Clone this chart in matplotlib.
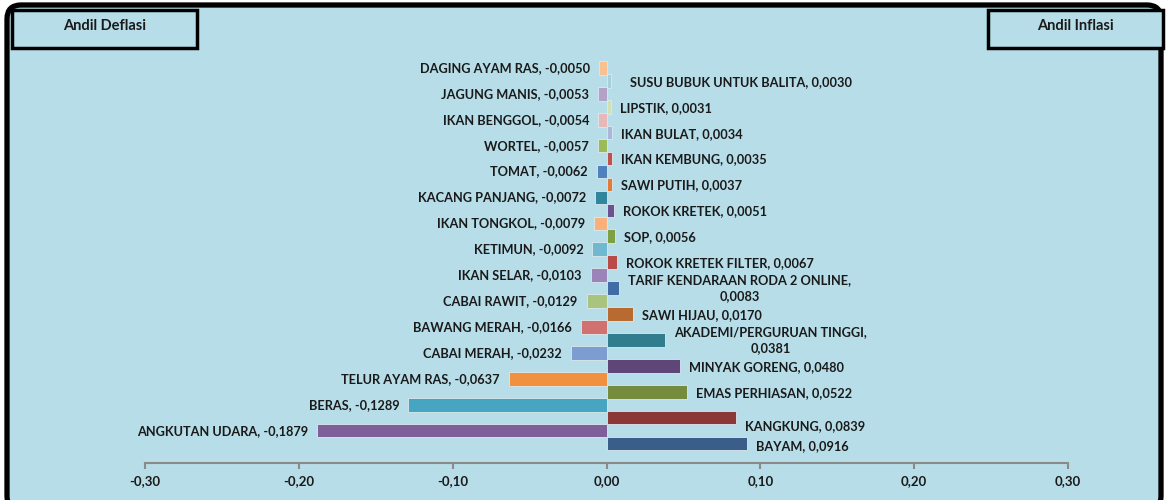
import matplotlib
matplotlib.use("Agg")
import matplotlib.pyplot as plt
from matplotlib.patches import FancyBboxPatch, Rectangle

# Font: Calibri-like bold
plt.rcParams['font.family'] = ['Lato', 'DejaVu Sans']
plt.rcParams['font.weight'] = 'bold'

# Deflation contributors (top to bottom)
defl_names = ['DAGING AYAM RAS', 'JAGUNG MANIS', 'IKAN BENGGOL', 'WORTEL', 'TOMAT',
              'KACANG PANJANG', 'IKAN TONGKOL', 'KETIMUN', 'IKAN SELAR', 'CABAI RAWIT',
              'BAWANG MERAH', 'CABAI MERAH', 'TELUR AYAM RAS', 'BERAS', 'ANGKUTAN UDARA']
defl_values = [-0.0050, -0.0053, -0.0054, -0.0057, -0.0062, -0.0072, -0.0079, -0.0092,
               -0.0103, -0.0129, -0.0166, -0.0232, -0.0637, -0.1289, -0.1879]
defl_colors = ['#fac090', '#b3a2c7', '#e6b9b8', '#9bbb59', '#4f81bd', '#31859c', '#fab07a',
               '#6fb8cf', '#9a84b8', '#a9c47f', '#d07070', '#7d9ccf', '#f0913f', '#46a5c0',
               '#7e5f9a']

# Inflation contributors (top to bottom)
infl_names = ['SUSU BUBUK UNTUK BALITA', 'LIPSTIK', 'IKAN BULAT', 'IKAN KEMBUNG', 'SAWI PUTIH',
              'ROKOK KRETEK', 'SOP', 'ROKOK KRETEK FILTER', 'TARIF KENDARAAN RODA 2 ONLINE',
              'SAWI HIJAU', 'AKADEMI/PERGURUAN TINGGI', 'MINYAK GORENG', 'EMAS PERHIASAN',
              'KANGKUNG', 'BAYAM']
infl_values = [0.0030, 0.0031, 0.0034, 0.0035, 0.0037, 0.0051, 0.0056, 0.0067, 0.0083,
               0.0170, 0.0381, 0.0480, 0.0522, 0.0839, 0.0916]
infl_colors = ['#a6d0dc', '#d3e0b5', '#a7b9d8', '#c0504d', '#e07b39', '#6a5190', '#7f9f45',
               '#b84a47', '#416ca6', '#b96a30', '#317d8d', '#5e4778', '#758c3f', '#8c3836',
               '#3a5d8a']

xticks = [-0.30, -0.20, -0.10, 0.00, 0.10, 0.20, 0.30]
xtick_labels = ['-0,30', '-0,20', '-0,10', '0,00', '0,10', '0,20', '0,30']

bg = '#b7dde8'


def fmt(v):
    return ('%.4f' % v).replace('.', ',')


fig = plt.figure(figsize=(11.68, 5.0), dpi=100, facecolor='white')

# Rounded black frame with light blue fill
frame = FancyBboxPatch((7 / 1168, -0.02), 1154 / 1168, 1.01,
                       boxstyle='round,pad=0,rounding_size=0.012',
                       transform=fig.transFigure, facecolor=bg, edgecolor='black',
                       linewidth=3.8, zorder=-1, mutation_aspect=1168 / 500)
fig.patches.append(frame)

ax = fig.add_axes([145 / 1168, 0.074, 923 / 1168, 0.855])
ax.set_facecolor('none')
ax.set_zorder(1)

n = len(defl_values)
y_defl = [2 * i for i in range(n)]
y_infl = [2 * i + 1 for i in range(n)]

ax.barh(y_defl, defl_values, height=1.05, color=defl_colors, edgecolor='#dce9ee',
        linewidth=0.6, zorder=2)
ax.barh(y_infl, infl_values, height=1.05, color=infl_colors, edgecolor='#dce9ee',
        linewidth=0.6, zorder=2)

lab_kw = dict(textcoords='offset pixels', fontsize=9.2, fontweight='bold', color='#1a1a1a',
              va='center')

for y, v, name in zip(y_defl, defl_values, defl_names):
    ax.annotate(f'{name}, {fmt(v)}', (v, y), xytext=(-9, 0), ha='right', **lab_kw)

# per-label tweaks for the inflation side (pixel offsets)
infl_off = {0: (19, -1), 13: (9, -8), 14: (9, -3)}
for i, (y, v, name) in enumerate(zip(y_infl, infl_values, infl_names)):
    dx, dy = infl_off.get(i, (9, -1))
    if i in (8, 10):
        txt = f'{name},\n{fmt(v)}'
        ax.annotate(txt, (v, y), xytext=(dx, 0), ha='left', multialignment='center',
                    linespacing=1.45, **lab_kw)
    else:
        ax.annotate(f'{name}, {fmt(v)}', (v, y), xytext=(dx, dy), ha='left', **lab_kw)

ax.set_xlim(-0.30, 0.30)
ax.set_ylim(30.5, -2.5)
ax.set_xticks(xticks)
ax.set_xticklabels(xtick_labels, fontsize=9.5, fontweight='bold', color='#1a1a1a')
ax.set_yticks([])
for s in ['top', 'left', 'right']:
    ax.spines[s].set_visible(False)
ax.spines['bottom'].set_color('#8a8a8a')
ax.spines['bottom'].set_linewidth(1.5)
ax.tick_params(axis='x', direction='out', length=4, width=1.5, color='#8a8a8a', pad=5)

# Title boxes
for x0, x1, label in [(12, 197, 'Andil Deflasi'), (988, 1163, 'Andil Inflasi')]:
    box = Rectangle((x0 / 1168, 1 - 48 / 500), (x1 - x0) / 1168, 38 / 500,
                    transform=fig.transFigure, facecolor=bg, edgecolor='black',
                    linewidth=2.5, zorder=3)
    fig.patches.append(box)
    fig.text((x0 + x1) / 2 / 1168, 1 - 26 / 500, label, ha='center', va='center',
             fontsize=10.5, fontweight='bold', color='#1a1a1a', zorder=4)

fig.savefig('out.png', dpi=100, facecolor='white')
